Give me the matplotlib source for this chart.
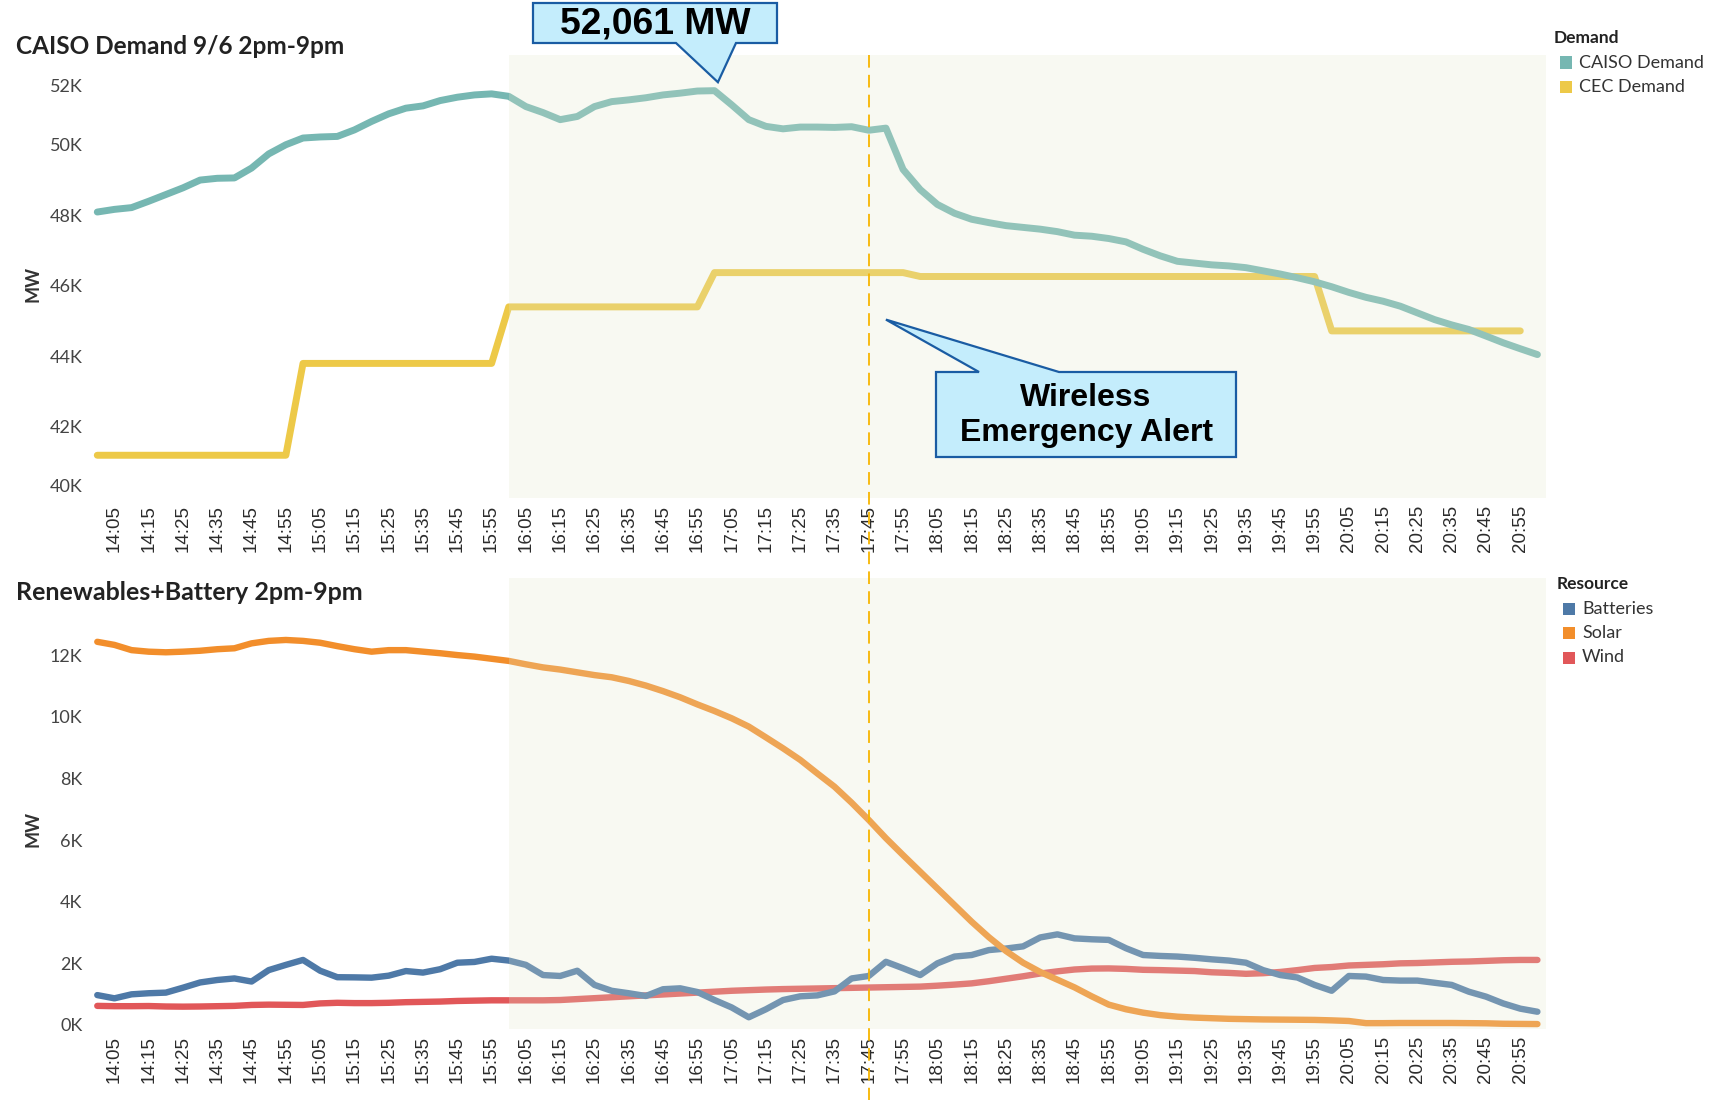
import numpy as np
import matplotlib.pyplot as plt
from matplotlib.patches import Polygon, Rectangle
from matplotlib.lines import Line2D
from matplotlib.ticker import FuncFormatter
from matplotlib.transforms import ScaledTranslation, blended_transform_factory

# 5-minute steps, minutes after 14:00 (14:00 .. 21:00)
minutes = np.arange(0, 425, 5)

caiso = [48085, 48160, 48210, 48390, 48580, 48770, 48990, 49040, 49050, 49330,
         49730, 49990, 50180, 50210, 50225, 50410, 50650, 50865, 51025, 51090,
         51240, 51335, 51400, 51430, 51360, 51070, 50900, 50700, 50790, 51070,
         51210, 51260, 51320, 51400, 51450, 51510, 51520, 51120, 50700, 50510,
         50440, 50490, 50490, 50480, 50500, 50400, 50460, 49290, 48720, 48300,
         48050, 47880, 47785, 47700, 47650, 47600, 47530, 47430, 47400, 47335,
         47240, 47030, 46845, 46690, 46640, 46590, 46560, 46510, 46420, 46330,
         46225, 46110, 45970, 45810, 45670, 45560, 45420, 45230, 45040, 44890,
         44760, 44575, 44385, 44215, 44050]

cec = ([41200] * 12 + [43800] * 12 + [45400] * 12 + [46370] * 12
       + [46260] * 24 + [44720] * 12 + [np.nan])

batteries = [970, 865, 995, 1030, 1050, 1210, 1380, 1460, 1510, 1410,
             1780, 1950, 2110, 1760, 1550, 1545, 1535, 1600, 1750, 1700,
             1810, 2020, 2045, 2150, 2090, 1950, 1620, 1590, 1760, 1300,
             1110, 1030, 940, 1160, 1190, 1070, 810, 570, 250, 510,
             810, 930, 960, 1090, 1510, 1590, 2050, 1840, 1620, 2000,
             2220, 2270, 2430, 2480, 2550, 2840, 2940, 2810, 2780, 2760,
             2490, 2270, 2240, 2220, 2180, 2130, 2090, 2020, 1780, 1620,
             1540, 1300, 1110, 1590, 1570, 1460, 1440, 1440, 1370, 1300,
             1080, 920, 700, 530, 430]

solar = [12430, 12330, 12160, 12110, 12090, 12110, 12140, 12190, 12220, 12380,
         12460, 12490, 12460, 12400, 12290, 12190, 12110, 12160, 12160, 12110,
         12060, 12000, 11950, 11880, 11810, 11700, 11600, 11530, 11440, 11350,
         11280, 11160, 11010, 10830, 10630, 10400, 10185, 9950, 9680, 9330,
         8975, 8600, 8160, 7730, 7210, 6650, 6060, 5510, 4970, 4430,
         3890, 3350, 2850, 2400, 2020, 1720, 1470, 1220, 930, 660,
         510, 400, 320, 270, 240, 220, 200, 190, 180, 175,
         170, 165, 150, 130, 60, 60, 65, 65, 65, 65,
         60, 55, 40, 35, 30]

wind = [620, 610, 610, 615, 600, 595, 600, 610, 620, 650,
        660, 655, 650, 700, 720, 710, 710, 720, 740, 750,
        760, 780, 790, 800, 800, 800, 800, 810, 840, 870,
        900, 930, 960, 990, 1020, 1050, 1080, 1110, 1130, 1150,
        1165, 1175, 1185, 1195, 1205, 1215, 1225, 1235, 1245, 1275,
        1310, 1350, 1420, 1500, 1580, 1670, 1740, 1800, 1830, 1835,
        1820, 1790, 1780, 1765, 1750, 1710, 1690, 1660, 1680, 1720,
        1780, 1850, 1880, 1930, 1950, 1970, 2000, 2010, 2030, 2050,
        2060, 2080, 2100, 2110, 2110]

demand_names = ["CAISO Demand", "CEC Demand"]
demand_colors = ["#76B7B2", "#EDC948"]
resource_names = ["Batteries", "Solar", "Wind"]
resource_colors = ["#4E79A7", "#F28E2B", "#E15759"]

tick_minutes = minutes[1::2]
tick_labels = [f"{14 + m // 60}:{m % 60:02d}" for m in tick_minutes]

alert_minute = 225      # 17:45
shade_start = 120       # 16:00

W, H = 1716, 1106
fig = plt.figure(figsize=(W / 100, H / 100), dpi=100)


def px(x, y):
    return (x / W, 1 - y / H)


tableau_font = "Lato"
ax1 = fig.add_axes([88.7 / W, 1 - 498 / H, (1546 - 88.7) / W, (498 - 55) / H])
ax2 = fig.add_axes([88.7 / W, 1 - 1029 / H, (1546 - 88.7) / W, (1029 - 578) / H])

ax1.plot(minutes, cec, color=demand_colors[1], lw=5, solid_joinstyle="round",
         solid_capstyle="round", zorder=3)
ax1.plot(minutes, caiso, color=demand_colors[0], lw=5, solid_joinstyle="round",
         solid_capstyle="round", zorder=4)

for vals, c in zip([wind, batteries, solar], [resource_colors[2], resource_colors[0], resource_colors[1]]):
    ax2.plot(minutes, vals, color=c, lw=4.6, solid_joinstyle="round",
             solid_capstyle="round", zorder=3)

ax1.set_ylim(39990, 52530)
ax1.set_yticks(np.arange(40000, 52001, 2000))
ax2.set_ylim(-130, 14500)
ax2.set_yticks(np.arange(0, 12001, 2000))

kfmt = FuncFormatter(lambda v, p: f"{v / 1000:.0f}K")
for ax in (ax1, ax2):
    ax.set_xlim(-2.5, 422.5)
    ax.axvspan(shade_start, 422.5, color="#E4E8D0", alpha=0.26, lw=0, zorder=6)
    ax.set_facecolor("white")
    for s in ax.spines.values():
        s.set_visible(False)
    ax.yaxis.set_major_formatter(kfmt)
    ax.set_xticks(tick_minutes)
    ax.set_xticklabels(tick_labels, rotation=90, fontsize=13.5,
                       family="Liberation Sans", color="#2b2b2b")
    ax.tick_params(axis="x", length=0, pad=5)
    ax.tick_params(axis="y", length=0, pad=4.5, labelsize=13, labelcolor="#444444")
    for lab in ax.get_yticklabels():
        lab.set_family(tableau_font)

# Tableau keeps the end labels inside the pane
ylabs = ax1.get_yticklabels()
ylabs[-1].set_transform(ylabs[-1].get_transform() + ScaledTranslation(0, -0.12, fig.dpi_scale_trans))
ylabs[0].set_transform(ylabs[0].get_transform() + ScaledTranslation(0, 0.12, fig.dpi_scale_trans))

# alert marker line spanning both panels
trans = blended_transform_factory(ax1.transData, fig.transFigure)
fig.add_artist(Line2D([alert_minute, alert_minute], [1 - 55 / H, 1 - 1100 / H],
                      transform=trans, color="#F7B500", lw=1.3, dashes=(7, 4), zorder=20))

# titles and axis labels
fig.text(*px(16, 47), "CAISO Demand 9/6 2pm-9pm", fontsize=17.6, fontweight="bold",
         family=tableau_font, color="#222222", va="center", ha="left")
fig.text(*px(16, 592), "Renewables+Battery 2pm-9pm", fontsize=18, fontweight="bold",
         family=tableau_font, color="#222222", va="center", ha="left")
fig.text(*px(33, 284), "MW", rotation=90, fontsize=13, fontweight="bold",
         family=tableau_font, color="#333333", va="center", ha="center")
fig.text(*px(33, 829), "MW", rotation=90, fontsize=13, fontweight="bold",
         family=tableau_font, color="#333333", va="center", ha="center")


# legends
def legend(title, names, colors, x, y):
    fig.text(*px(x, y), title, fontsize=12.5, fontweight="bold", family=tableau_font,
             color="#222222", va="center", ha="left")
    for k, (n, c) in enumerate(zip(names, colors)):
        yy = y + 24.5 * (k + 1)
        fig.add_artist(Rectangle(px(x + 6, yy + 6), 12 / W, 12 / H,
                                 transform=fig.transFigure, color=c, lw=0))
        fig.text(*px(x + 25, yy), n, fontsize=13, family=tableau_font,
                 color="#333333", va="center", ha="left")


legend("Demand", demand_names, demand_colors, 1554, 38)
legend("Resource", resource_names, resource_colors, 1557, 584)


# callouts
def callout(box, base, tip, lines, size):
    x0, y0, x1, y1 = box
    tx, ty = fig.transFigure.inverted().transform(ax1.transData.transform(tip))
    if base[2] == "bottom":
        verts = [px(x0, y0), px(x1, y0), px(x1, y1), px(base[1], y1), (tx, ty),
                 px(base[0], y1), px(x0, y1)]
    else:
        verts = [px(x0, y0), px(base[0], y0), (tx, ty), px(base[1], y0),
                 px(x1, y0), px(x1, y1), px(x0, y1)]
    fig.add_artist(Polygon(verts, closed=True, transform=fig.transFigure,
                           facecolor="#C4EDFC", edgecolor="#1A5CA3", lw=1.6, zorder=30))
    fig.text(*px((x0 + x1) / 2, (y0 + y1) / 2 + 1), "\n".join(lines), fontsize=size,
             fontweight="bold", family="Liberation Sans", color="black",
             ha="center", va="center", linespacing=1.2, zorder=31)


callout((533, 3, 777, 43), (676, 736, "bottom"), (181, 51760), ["52,061 MW"], 26.8)
callout((936, 372, 1236, 457), (979, 1059, "top"), (230, 45040),
        ["Wireless", "Emergency Alert"], 23)

fig.savefig("out.png", dpi=100)
